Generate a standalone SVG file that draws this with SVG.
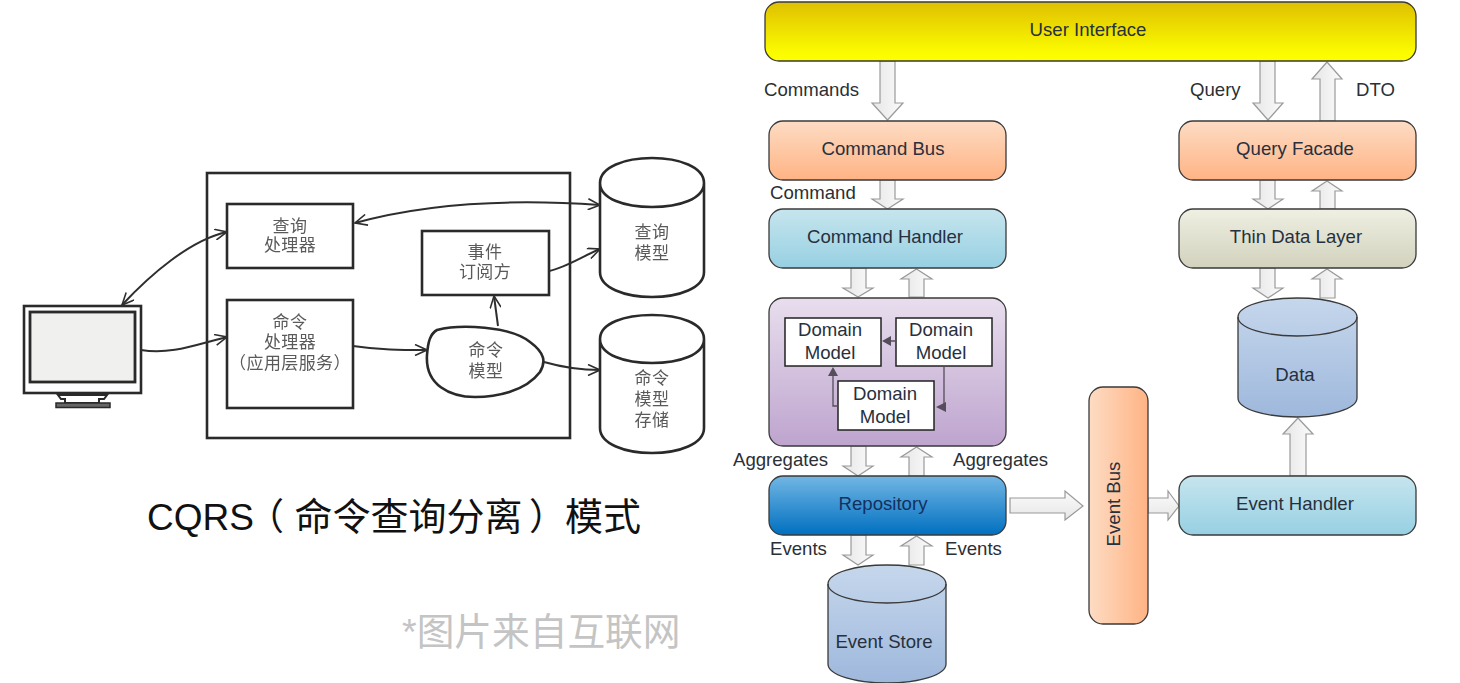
<svg xmlns="http://www.w3.org/2000/svg" width="1460" height="683" viewBox="0 0 1460 683">
<style>
text{font-family:"Liberation Sans","Noto Sans CJK SC",sans-serif}
.t{font-size:18.6px;fill:#27303d;text-anchor:middle}
.l{font-size:18.6px;fill:#2b2f36}
.c{font-size:17px;fill:#5a5a5a;text-anchor:middle;letter-spacing:.4px}
.h{fill:#fff;stroke:#2a2a2a;stroke-width:2.6}
.v{fill:#fff;stroke:#2a2a2a;stroke-width:2.6}
.w{fill:none;stroke:#2e2e2e;stroke-width:2}
.n{stroke:#3a3a3a;stroke-width:1.3}
.b{fill:url(#ga);stroke:#9a9a9a;stroke-width:1.2}
.br{fill:url(#gah);stroke:#9a9a9a;stroke-width:1.2}
.d{fill:#fff;stroke:#222;stroke-width:1.5}
.da{fill:none;stroke:#554d5a;stroke-width:1.3}
.dh{fill:#554d5a}
</style>
<defs>
<filter id="soft" x="-5%" y="-5%" width="110%" height="110%"><feGaussianBlur stdDeviation="0.45"/></filter>
<marker id="open" viewBox="0 0 14 12" refX="13" refY="6" markerWidth="14" markerHeight="12" markerUnits="userSpaceOnUse" orient="auto-start-reverse"><path d="M1 0.5 L13 6 L1 11.5" fill="none" stroke="#2e2e2e" stroke-width="1.6"/></marker>
<linearGradient id="gu" x1="0" y1="0" x2="0" y2="1"><stop offset="0" stop-color="#dfc000"/><stop offset="0.85" stop-color="#fbfb00"/><stop offset="1" stop-color="#ffff00"/></linearGradient>
<linearGradient id="go" x1="0" y1="0" x2="0" y2="1"><stop offset="0" stop-color="#fddcc4"/><stop offset="1" stop-color="#ffb384"/></linearGradient>
<linearGradient id="goh" x1="0" y1="0" x2="1" y2="0"><stop offset="0" stop-color="#fddcc4"/><stop offset="1" stop-color="#ffb384"/></linearGradient>
<linearGradient id="gb" x1="0" y1="0" x2="0" y2="1"><stop offset="0" stop-color="#c6e5ee"/><stop offset="1" stop-color="#97d0e2"/></linearGradient>
<linearGradient id="gt" x1="0" y1="0" x2="0" y2="1"><stop offset="0" stop-color="#efefe3"/><stop offset="1" stop-color="#d2d2bd"/></linearGradient>
<linearGradient id="gp" x1="0" y1="0" x2="0" y2="1"><stop offset="0" stop-color="#e8deee"/><stop offset="1" stop-color="#bea4ce"/></linearGradient>
<linearGradient id="gr" x1="0" y1="0" x2="0" y2="1"><stop offset="0" stop-color="#72b6e4"/><stop offset="1" stop-color="#0070c0"/></linearGradient>
<linearGradient id="gc" x1="0" y1="0" x2="0" y2="1"><stop offset="0" stop-color="#c6d7ec"/><stop offset="1" stop-color="#9eb8dc"/></linearGradient>
<linearGradient id="ga" x1="0" y1="0" x2="1" y2="0"><stop offset="0" stop-color="#e6e6e6"/><stop offset="1" stop-color="#fbfbfb"/></linearGradient>
<linearGradient id="gah" x1="0" y1="0" x2="0" y2="1"><stop offset="0" stop-color="#fbfbfb"/><stop offset="1" stop-color="#e6e6e6"/></linearGradient>
</defs>
<rect width="1460" height="683" fill="#fff"/>

<g id="cqrs-left" filter="url(#soft)">
<g id="service-boundary"><rect class="h" x="207" y="173" width="363" height="265" style="fill:none"/></g>
<g id="monitor">
<rect class="h" x="24" y="306" width="117" height="87"/>
<rect x="30" y="312" width="105" height="70" fill="#f0f0ee" stroke="#2a2a2a" stroke-width="2.8"/>
<path d="M58 395 H107 L104 399 H99 V403 H65 V399 H61 Z" fill="#fff" stroke="#2a2a2a" stroke-width="2"/>
<rect x="56" y="403" width="54" height="4.500" fill="#666" stroke="#2a2a2a" stroke-width="1.500"/>
</g>
<g id="query-handler"><rect class="h" x="227" y="204" width="126" height="64"/><text class="c" x="290" y="232">查询</text><text class="c" x="290" y="251">处理器</text></g>
<g id="command-handler-cn"><rect class="h" x="227" y="300" width="126" height="108"/><text class="c" x="290" y="328">命令</text><text class="c" x="290" y="348">处理器</text><text class="c" x="290" y="369">（应用层服务）</text></g>
<g id="event-subscriber"><rect class="h" x="422" y="231" width="127" height="64"/><text class="c" x="485" y="258">事件</text><text class="c" x="485" y="278">订阅方</text></g>
<g id="command-model"><path class="h" d="M437 330 C460 324 510 326 530 342 C545 353 546 362 540 372 C525 392 495 397 475 397 C450 397 425 385 427 355 C428 342 430 334 437 330 Z"/><text class="c" x="486" y="356">命令</text><text class="c" x="486" y="377">模型</text></g>
<g id="query-model"><path class="v" d="M600 183 V272 C600 288 625 297 652 297 C679 297 704 288 704 272 V183 C704 167 679 158 652 158 C625 158 600 167 600 183 C600 199 625 207 652 207 C679 207 704 199 704 183"/><text class="c" x="652" y="238">查询</text><text class="c" x="652" y="259">模型</text></g>
<g id="command-store"><path class="v" d="M600 339 V428 C600 444 625 453 652 453 C679 453 704 444 704 428 V339 C704 323 679 315 652 315 C625 315 600 323 600 339 C600 355 625 363 652 363 C679 363 704 355 704 339"/><text class="c" x="652" y="384">命令</text><text class="c" x="652" y="405">模型</text><text class="c" x="652" y="426">存储</text></g>
<g id="connectors-left">
<path class="w" marker-start="url(#open)" marker-end="url(#open)" d="M122 305 C150 275 190 240 227 232"/>
<path class="w" marker-end="url(#open)" d="M141 350 C170 355 195 345 227 337"/>
<path class="w" marker-start="url(#open)" marker-end="url(#open)" d="M355 223 C420 205 500 198 600 205"/>
<path class="w" marker-end="url(#open)" d="M549 271 C565 268 585 255 600 249"/>
<path class="w" marker-end="url(#open)" d="M498 326 L494 296"/>
<path class="w" marker-end="url(#open)" d="M353 346 C380 350 400 350 427 350"/>
<path class="w" marker-end="url(#open)" d="M544 362 C565 368 580 370 600 370"/>
</g>
</g>

<g id="captions">
<text x="147" y="530" font-size="37" fill="#111">CQRS<tspan x="247">（</tspan><tspan x="294.500" font-size="38">命令查询分离</tspan><tspan x="529">）</tspan><tspan x="565" font-size="38">模式</tspan></text>
<text x="402" y="645" font-size="37.700" fill="#c4c4c4">*图片来自互联网</text>
</g>

<g id="connectors">
<polygon class="b" points="880,61 895,61 895,103 903,103 887.500,120 872,103 880,103"/>
<polygon class="b" points="880,180 895,180 895,199 903,199 887.500,209 872,199 880,199"/>
<polygon class="b" points="851,268 866,268 866,288 873,288 858,297 843,288 851,288"/>
<polygon class="b" points="909,297 924,297 924,279 932,279 916.500,269 901,279 909,279"/>
<polygon class="b" points="851,446 866,446 866,466 873,466 858,476 843,466 851,466"/>
<polygon class="b" points="909,476 924,476 924,457 932,457 916.500,447 901,457 909,457"/>
<polygon class="b" points="851,535 866,535 866,555 873,555 858,565 843,555 851,555"/>
<polygon class="b" points="909,565 924,565 924,546 932,546 916.500,536 901,546 909,546"/>
<polygon class="br" points="1010,498 1065,498 1065,491 1083,506 1065,520 1065,513 1010,513"/>
<polygon class="br" points="1148,498 1168,498 1168,491 1179,506 1168,520 1168,513 1148,513"/>
<polygon class="b" points="1290,476 1306,476 1306,434 1313,434 1298,418 1283,434 1290,434"/>
<polygon class="b" points="1260,61 1275,61 1275,103 1283,103 1268,120 1253,103 1260,103"/>
<polygon class="b" points="1320,121 1335,121 1335,79 1342,79 1327,62 1312,79 1320,79"/>
<polygon class="b" points="1260,180 1275,180 1275,199 1283,199 1268,209 1253,199 1260,199"/>
<polygon class="b" points="1320,209 1335,209 1335,191 1342,191 1327,181 1312,191 1320,191"/>
<polygon class="b" points="1260,268 1275,268 1275,288 1283,288 1268,298 1253,288 1260,288"/>
<polygon class="b" points="1320,298 1335,298 1335,279 1342,279 1327,269 1312,279 1320,279"/>
</g>

<g id="user-interface"><rect class="n" x="765" y="2" width="651" height="59" rx="14" fill="url(#gu)"/><text class="t" x="1088" y="36">User Interface</text></g>
<g id="command-bus"><rect class="n" x="769" y="121" width="237" height="59" rx="14" fill="url(#go)"/><text class="t" x="883" y="155">Command Bus</text></g>
<g id="command-handler"><rect class="n" x="769" y="209" width="237" height="59" rx="14" fill="url(#gb)"/><text class="t" x="885" y="243">Command Handler</text></g>
<g id="aggregates"><rect class="n" x="769" y="298" width="237" height="148" rx="14" fill="url(#gp)"/>
<rect class="d" x="785" y="318" width="96" height="48"/><text class="t" x="830" y="336">Domain</text><text class="t" x="830" y="359">Model</text>
<rect class="d" x="896" y="318" width="96" height="48"/><text class="t" x="941" y="336">Domain</text><text class="t" x="941" y="359">Model</text>
<rect class="d" x="838" y="381" width="96" height="49"/><text class="t" x="885" y="400">Domain</text><text class="t" x="885" y="423">Model</text>
<path class="da" d="M896 341 H888 M944 366 V407 H941 M838 406 H833 V375"/>
<polygon class="dh" points="882,341 891,336 891,346"/><polygon class="dh" points="936,407 946,402 946,412"/><polygon class="dh" points="833,367 828,376 838,376"/>
</g>
<g id="repository"><rect class="n" x="769" y="476" width="237" height="59" rx="14" fill="url(#gr)"/><text class="t" x="883" y="510" style="fill:#14305f">Repository</text></g>
<g id="event-store"><path class="n" fill="url(#gc)" d="M828 584 V664 C828 675 855 683 887 683 C919 683 946 675 946 664 V584 C946 573 919 565 887 565 C855 565 828 573 828 584 Z"/><path class="n" fill="none" d="M828 584 C828 595 855 603 887 603 C919 603 946 595 946 584"/><text class="t" x="884" y="648">Event Store</text></g>
<g id="event-bus"><rect class="n" x="1089" y="387" width="59" height="237" rx="14" fill="url(#goh)"/><text class="t" transform="translate(1120 504) rotate(-90)">Event Bus</text></g>
<g id="event-handler"><rect class="n" x="1179" y="476" width="237" height="59" rx="14" fill="url(#gb)"/><text class="t" x="1295" y="510">Event Handler</text></g>
<g id="query-facade"><rect class="n" x="1179" y="121" width="237" height="59" rx="14" fill="url(#go)"/><text class="t" x="1295" y="155">Query Facade</text></g>
<g id="thin-data-layer"><rect class="n" x="1179" y="209" width="237" height="59" rx="14" fill="url(#gt)"/><text class="t" x="1296" y="243">Thin Data Layer</text></g>
<g id="data"><path class="n" fill="url(#gc)" d="M1238 317 V398 C1238 409 1265 417 1297 417 C1329 417 1357 409 1357 398 V317 C1357 306 1329 298 1297 298 C1265 298 1238 306 1238 317 Z"/><path class="n" fill="none" d="M1238 317 C1238 328 1265 336 1297 336 C1329 336 1357 328 1357 317"/><text class="t" x="1295" y="381">Data</text></g>

<g id="labels">
<text class="l" x="764" y="96">Commands</text>
<text class="l" x="770" y="199">Command</text>
<text class="l" x="1190" y="96">Query</text>
<text class="l" x="1356" y="96">DTO</text>
<text class="l" x="733" y="466">Aggregates</text>
<text class="l" x="953" y="466">Aggregates</text>
<text class="l" x="770" y="555">Events</text>
<text class="l" x="945" y="555">Events</text>
</g>
</svg>
